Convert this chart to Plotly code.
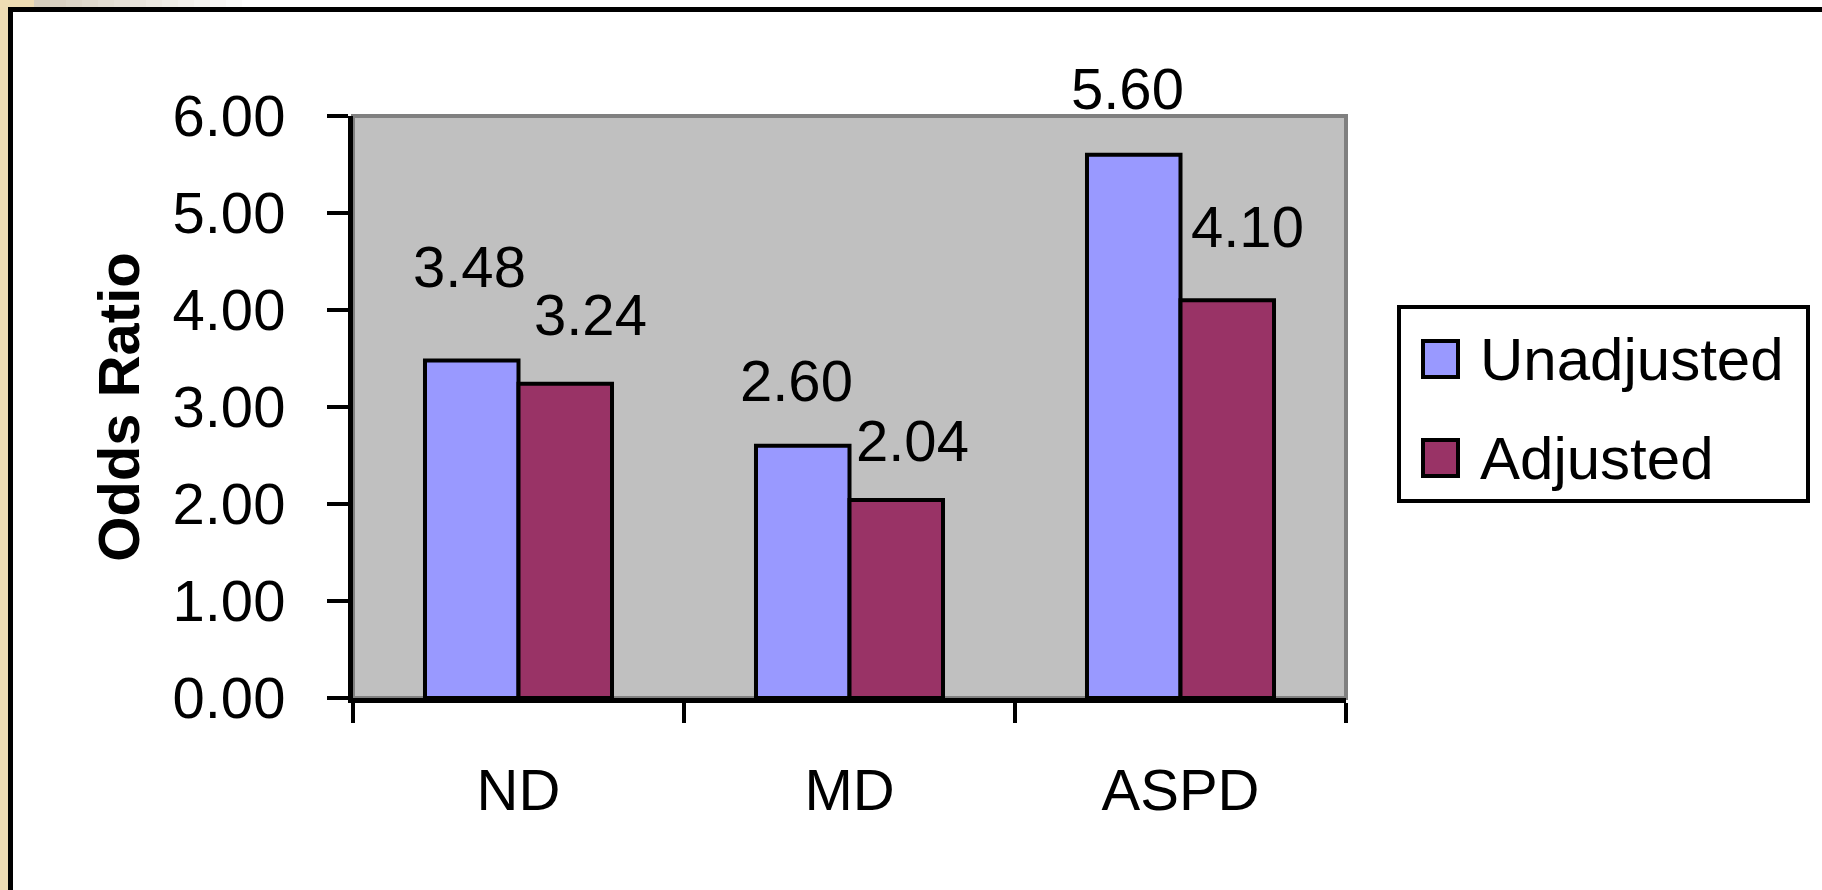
import plotly.graph_objects as go

# ---- data ----
categories = ["ND", "MD", "ASPD"]
series_names = ["Unadjusted", "Adjusted"]
unadjusted = [3.48, 2.60, 5.60]
adjusted = [3.24, 2.04, 4.10]
y_ticks = [0, 1, 2, 3, 4, 5, 6]

# ---- styling / layout constants ----
W, H = 1822, 890
L, R, T, B = 353, 1346, 116, 698
FONT = "Liberation Sans, Arial, sans-serif"
FS = 58
colors = ["#9999FF", "#993366"]

def px(x):
    return (x - L) / (R - L)

def py(y):
    return (B - y) / (B - T)

fig = go.Figure()
for name, vals, col in zip(series_names, [unadjusted, adjusted], colors):
    fig.add_trace(go.Bar(
        x=categories, y=vals, name=name,
        marker=dict(color=col, line=dict(color="black", width=4)),
        showlegend=False, hoverinfo="x+y+name",
    ))

# data labels (manually placed like the original)
label_dx = [[-2, -6, -6], [25, 16, 20]]
label_dy = [[94, 65, 66], [69, 60, 74]]
bar_off = [-47, 47]
annotations = []
for s, vals in enumerate([unadjusted, adjusted]):
    for i, v in enumerate(vals):
        annotations.append(dict(
            x=categories[i], y=v, xref="x", yref="y", text=f"{v:.2f}",
            showarrow=False, xanchor="center", yanchor="middle",
            xshift=bar_off[s] + label_dx[s][i], yshift=label_dy[s][i],
            font=dict(family=FONT, size=FS, color="black"),
        ))

shapes = []
# decorative background: beige left strip and top gradient
shapes.append(dict(type="rect", xref="paper", yref="paper", x0=px(0), x1=px(9), y0=py(0), y1=py(H),
                   fillcolor="#EEDCB4", line=dict(width=0), layer="below"))
shapes.append(dict(type="rect", xref="paper", yref="paper", x0=px(0), x1=px(34), y0=py(0), y1=py(9),
                   fillcolor="#EEDCB4", line=dict(width=0), layer="below"))
n = 14
for k in range(n):
    t = k / (n - 1)
    c = tuple(int(a + (255 - a) * t) for a in (214, 206, 190))
    x0 = 34 + k * 16
    shapes.append(dict(type="rect", xref="paper", yref="paper", x0=px(x0), x1=px(x0 + 16), y0=py(0), y1=py(9),
                       fillcolor="rgb(%d,%d,%d)" % c, line=dict(width=0), layer="below"))
# outer frame
shapes.append(dict(type="rect", xref="paper", yref="paper", x0=px(10.5), x1=px(1900), y0=py(9.5), y1=py(1000),
                   line=dict(color="black", width=5), fillcolor="rgba(0,0,0,0)"))
# plot area grey border
shapes.append(dict(type="rect", xref="paper", yref="paper", x0=0, x1=1, y0=0, y1=1,
                   line=dict(color="#808080", width=4), fillcolor="rgba(0,0,0,0)", layer="below"))
# legend box
shapes.append(dict(type="rect", xref="paper", yref="paper", x0=px(1399), x1=px(1808), y0=py(307), y1=py(501),
                   line=dict(color="black", width=4), fillcolor="white"))
legend_rows = [359, 458]
for name, col, yc in zip(series_names, colors, legend_rows):
    shapes.append(dict(type="rect", xref="paper", yref="paper", x0=px(1423), x1=px(1458),
                       y0=py(yc - 18), y1=py(yc + 18),
                       line=dict(color="black", width=4), fillcolor=col))
    annotations.append(dict(x=px(1478), y=py(yc), xref="paper", yref="paper", text=name,
                            showarrow=False, xanchor="left", yanchor="middle",
                            font=dict(family=FONT, size=60, color="black")))

fig.update_layout(
    width=W, height=H,
    margin=dict(l=L, r=W - R, t=T, b=H - B, pad=0),
    paper_bgcolor="white", plot_bgcolor="#C0C0C0",
    barmode="group", bargap=0.435, bargroupgap=0,
    font=dict(family=FONT, size=FS, color="black"),
    shapes=shapes, annotations=annotations, showlegend=False,
    xaxis=dict(
        type="category", tickson="boundaries", ticks="outside", ticklen=20, tickwidth=4,
        tickcolor="black", showline=True, linecolor="black", linewidth=5,
        showgrid=False, zeroline=False, ticklabelstandoff=37,
        tickfont=dict(family=FONT, size=FS, color="black"),
    ),
    yaxis=dict(
        range=[0, 6], tickvals=y_ticks, tickformat=".2f", ticks="outside", ticklen=21, tickwidth=4,
        tickcolor="black", showline=True, linecolor="black", linewidth=5,
        showgrid=False, zeroline=False, ticklabelstandoff=30,
        tickfont=dict(family=FONT, size=FS, color="black"),
        title=dict(text="<b>Odds Ratio</b>", standoff=16,
                   font=dict(family=FONT, size=58, color="black")),
    ),
)

fig.write_html("out.html", config={"displayModeBar": False},
               post_script="document.body.style.margin='0';document.body.style.overflow='hidden';")
